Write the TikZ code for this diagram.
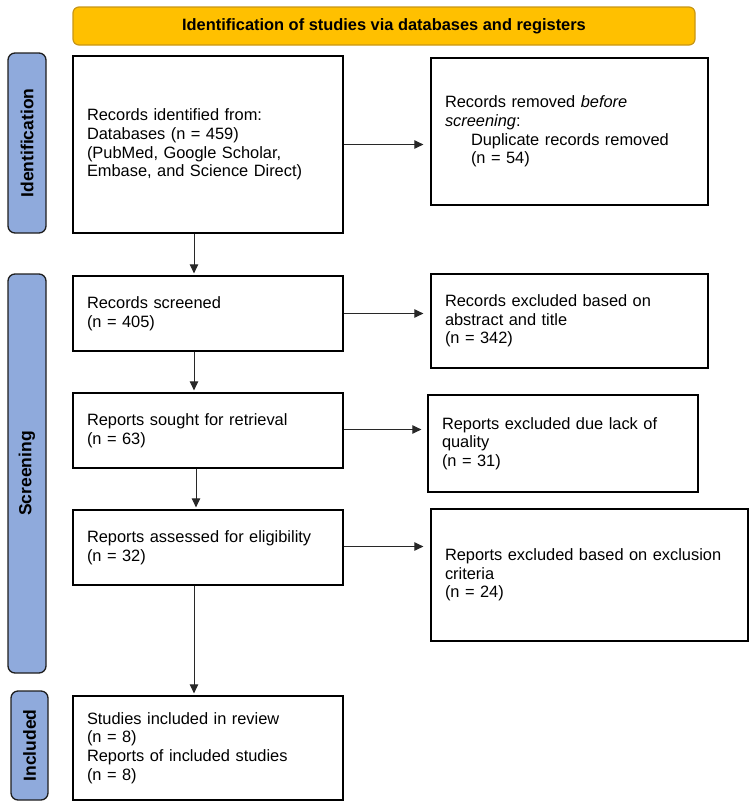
\documentclass[tikz,border=0pt]{standalone}
\usepackage{fontspec}
\setmainfont{Liberation Sans}
\usetikzlibrary{arrows.meta}
\definecolor{hdrfill}{RGB}{255,192,0}
\definecolor{hdrdraw}{RGB}{200,150,20}
\definecolor{sidefill}{RGB}{143,170,220}
\definecolor{sidedraw}{RGB}{30,30,30}
\definecolor{arrcol}{RGB}{40,40,40}
\begin{document}
\begin{tikzpicture}[x=1pt,y=-1pt,
  box/.style={draw=black, line width=1.3pt, fill=white, inner xsep=14pt, inner ysep=0pt,
    align=left, font=\fontsize{16.4}{18.6}\selectfont, anchor=center},
  side/.style={draw=sidedraw, fill=sidefill, line width=1.3pt, rounded corners=7pt,
    rotate=90, inner sep=0pt, font=\bfseries\fontsize{17.5}{20}\selectfont, anchor=center},
  hdr/.style={draw=hdrdraw, fill=hdrfill, line width=1.2pt, rounded corners=6pt,
    inner sep=0pt, font=\bfseries\fontsize{16.4}{19}\selectfont, anchor=center},
  arr/.style={-{Triangle[length=9pt,width=8.5pt]}, line width=0.8pt, draw=arrcol, fill=arrcol}
]
\useasboundingbox (0,0) rectangle (750,807);

\node[hdr, minimum width=622pt, minimum height=38pt] (hd) at (384,26)
  {Identification of studies via databases and registers};

\node[side, minimum width=180pt, minimum height=38pt] (s1) at (27,143) {Identification};
\node[side, minimum width=399pt, minimum height=38pt] (s2) at (27,473.5) {Screening};
\node[side, minimum width=109pt, minimum height=37pt] (s3) at (29.5,745.5) {Included};

\node[box, minimum width=270pt, minimum height=177pt, text width=242pt] (b1) at (208,144.5)
  {Records identified from:\\Databases (n = 459)\\(PubMed, Google Scholar,\\Embase, and Science Direct)};
\node[box, minimum width=277pt, minimum height=147pt, text width=249pt] (b2) at (569.5,131.5)
  {Records removed \textit{before}\\\textit{screening}:\\\hspace*{26pt}Duplicate records removed\\\hspace*{26pt}(n = 54)};

\node[box, minimum width=270pt, minimum height=75pt, text width=242pt] (b3) at (208,313.5)
  {Records screened\\(n = 405)};
\node[box, minimum width=277pt, minimum height=94pt, text width=249pt] (b4) at (569.5,321)
  {Records excluded based on\\abstract and title\\(n = 342)};

\node[box, minimum width=270pt, minimum height=75pt, text width=242pt] (b5) at (208,430.5)
  {Reports sought for retrieval\\(n = 63)};
\node[box, minimum width=270pt, minimum height=97pt, text width=242pt] (b6) at (563,443.5)
  {Reports excluded due lack of\\quality\\(n = 31)};

\node[box, minimum width=270pt, minimum height=75pt, text width=242pt] (b7) at (208,547.5)
  {Reports assessed for eligibility\\(n = 32)};
\node[box, minimum width=317pt, minimum height=132pt, text width=289pt] (b8) at (589.5,575)
  {Reports excluded based on exclusion\\criteria\\(n = 24)};

\node[box, minimum width=270pt, minimum height=104pt, text width=242pt] (b9) at (208,748)
  {Studies included in review\\(n = 8)\\Reports of included studies\\(n = 8)};

\draw[arr, shorten >=7pt] (b1.east) -- (b1.east -| b2.west);
\draw[arr, shorten >=7pt] (b3.east) -- (b3.east -| b4.west);
\draw[arr, shorten >=6pt] ([yshift=1pt]b5.east) -- ([yshift=1pt]b5.east -| b6.west);
\draw[arr, shorten >=7pt] ([yshift=1pt]b7.east) -- ([yshift=1pt]b7.east -| b8.west);

\draw[arr, shorten >=2pt] ([xshift=-14pt]b1.south) -- ([xshift=-14pt]b1.south |- b3.north);
\draw[arr, shorten >=2pt] ([xshift=-14pt]b3.south) -- ([xshift=-14pt]b3.south |- b5.north);
\draw[arr, shorten >=2pt] ([xshift=-12pt]b5.south) -- ([xshift=-12pt]b5.south |- b7.north);
\draw[arr, shorten >=2pt] ([xshift=-14pt]b7.south) -- ([xshift=-14pt]b7.south |- b9.north);
\end{tikzpicture}
\end{document}
